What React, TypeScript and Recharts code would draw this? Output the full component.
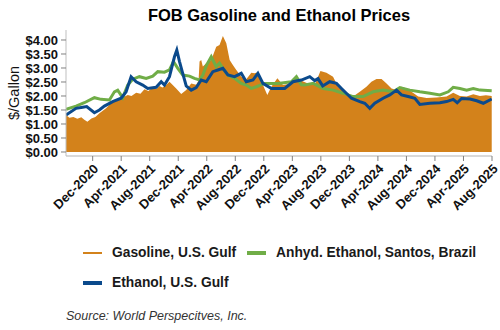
import React from 'react';
import { ComposedChart, Area, Line, XAxis, YAxis } from 'recharts';

// month index: 0 = Dec-2020
const TICK_LABELS = ['Dec-2020','Apr-2021','Aug-2021','Dec-2021','Apr-2022','Aug-2022','Dec-2022','Apr-2023','Aug-2023','Dec-2023','Apr-2024','Aug-2024','Dec-2024','Apr-2025','Aug-2025'];
const TICK_MONTHS = [0, 4, 8, 12, 16, 20, 24, 28, 32, 36, 40, 44, 48, 52, 56];
const Y_TICKS = [0, 0.5, 1, 1.5, 2, 2.5, 3, 3.5, 4];

const gasMonths = [-3.74,-3.27,-2.71,-2.15,-1.59,-1.17,-0.74,-0.18,0.38,0.94,1.88,2.81,3.47,3.99,4.92,5.44,6.1,6.7,7.26,7.82,8.43,8.95,9.37,9.78,10.31,10.77,11.19,11.71,12.42,13.12,13.82,14.52,14.85,14.99,15.22,15.45,15.93,16.63,17.33,17.79,18.26,18.74,19.21,19.66,20.14,20.84,21.54,22.25,22.71,23.17,23.88,24.49,25.06,25.9,26.69,27.86,29.03,30.2,31.14,31.94,32.78,33.71,34.41,35.35,36.52,37.46,38.39,39.09,39.8,40.51,41.21,41.91,42.61,43.31,44.02,44.72,45.65,46.83,48.23,49.63,50.56,51.5,52.44,53.37,54.31,55.15,55.96];
const gasPrices = [1.32,1.22,1.25,1.19,1.24,1.15,1.08,1.2,1.25,1.38,1.56,1.8,1.86,1.92,2.04,2.0,2.12,2.08,2.24,2.18,2.31,2.25,2.36,2.3,2.39,2.51,2.4,2.27,2.07,2.21,2.45,2.4,2.55,3.23,3.29,3.05,3.17,3.29,3.76,3.82,4.14,3.88,3.29,3.11,2.93,2.69,2.6,2.83,2.81,2.85,2.39,2.04,2.33,2.63,2.39,2.45,2.57,2.45,2.39,2.89,2.83,2.69,2.33,2.15,1.98,2.15,2.33,2.51,2.61,2.61,2.45,2.27,2.21,2.33,2.27,2.15,1.98,1.93,1.95,1.98,2.12,2.0,1.98,2.06,2.0,2.03,2.0];

const brMonths = [-3.74,-2.33,-1.17,0.24,1.18,2.35,3.05,3.51,4.21,4.92,5.62,6.56,7.5,8.43,9.13,10.07,10.77,11.33,11.94,12.64,13.58,14.28,14.99,15.45,15.97,16.63,17.33,17.79,18.26,18.96,19.9,20.84,21.54,22.25,22.95,24.11,25.98,27.86,28.57,29.27,29.76,30.93,32.33,33.71,35.11,36.52,37.92,39.33,40.73,42.13,43.08,44.48,45.88,47.29,48.69,49.86,50.56,51.5,52.44,53.37,54.31,55.96];
const brPrices = [1.52,1.64,1.76,1.94,1.88,1.86,2.15,2.21,1.94,2.39,2.6,2.69,2.63,2.71,2.87,2.85,2.93,3.23,2.99,2.75,2.71,2.63,2.57,2.75,3.1,3.4,3.05,3.17,2.99,2.75,2.63,2.45,2.39,2.27,2.33,2.45,2.45,2.51,2.69,2.4,2.39,2.45,2.27,2.21,2.1,1.98,1.98,2.15,2.21,2.15,2.3,2.21,2.15,2.1,2.04,2.15,2.31,2.27,2.21,2.27,2.21,2.19];

const usMonths = [-3.74,-2.33,-1.4,-0.84,0.24,0.94,1.64,2.81,3.99,4.69,5.39,6.1,7.02,7.72,8.9,9.61,10.07,10.77,11.47,11.8,12.18,12.56,13.12,13.82,14.52,15.22,15.93,16.85,17.56,18.26,18.96,19.9,20.84,21.54,22.47,23.17,23.88,25.06,26.93,28.09,29.27,30.44,31.14,31.6,32.26,33.24,34.19,34.89,36.29,37.46,38.16,38.86,39.56,40.73,41.67,42.61,43.31,44.24,45.18,45.88,47.29,48.69,49.63,50.56,51.12,51.74,52.91,53.85,54.78,55.96];
const usPrices = [1.32,1.56,1.6,1.62,1.4,1.5,1.64,1.8,1.92,2.15,2.69,2.51,2.39,2.27,2.31,2.51,2.39,2.69,3.4,3.64,3.23,2.87,2.36,2.21,2.3,2.57,2.51,2.87,2.93,2.99,2.75,2.69,2.81,2.51,2.57,2.81,2.45,2.27,2.27,2.51,2.57,2.69,2.55,2.62,2.36,2.51,2.45,2.27,1.92,1.8,1.74,1.56,1.74,1.92,2.04,2.21,2.04,1.98,1.92,1.7,1.74,1.76,1.8,1.88,1.76,1.91,1.89,1.83,1.74,1.89];

type Row = { m: number; gas?: number; br?: number; us?: number };

function buildRows(): Row[] {
  const map = new Map<number, Row>();
  const put = (ms: number[], vs: number[], key: 'gas' | 'br' | 'us') => {
    ms.forEach((m, i) => {
      const r = map.get(m) || { m };
      r[key] = vs[i];
      map.set(m, r);
    });
  };
  put(gasMonths, gasPrices, 'gas');
  put(brMonths, brPrices, 'br');
  put(usMonths, usPrices, 'us');
  return Array.from(map.values()).sort((a, b) => a.m - b.m);
}

const rows = buildRows();

const ORANGE = '#D3821B';
const GREEN = '#70AD47';
const BLUE = '#0B4A8C';
const FONT = '"Liberation Sans", Arial, sans-serif';

export default function App() {
  const legendText: React.CSSProperties = {
    position: 'absolute', fontSize: 13.8, fontWeight: 'bold', lineHeight: '16px', color: '#1a1a1a', whiteSpace: 'nowrap',
  };
  return (
    <div style={{ position: 'fixed', left: 0, top: 0, width: 500, height: 330, background: '#fff', fontFamily: FONT }}>
      <div style={{ position: 'absolute', left: 0, width: 558, top: 5, textAlign: 'center', fontSize: 16.5, fontWeight: 'bold', lineHeight: '20px', color: '#000' }}>
        FOB Gasoline and Ethanol Prices
      </div>
      <ComposedChart width={500} height={330} data={rows} margin={{ top: 30, right: 8, bottom: 104, left: 6 }} style={{ fontFamily: FONT }}>
        <XAxis
          type="number"
          dataKey="m"
          domain={[-3.74, 56]}
          ticks={TICK_MONTHS}
          tickFormatter={(v: number) => TICK_LABELS[TICK_MONTHS.indexOf(v)] ?? ''}
          interval={0}
          height={70}
          allowDataOverflow
          axisLine={{ stroke: '#D9D9D9', strokeWidth: 2 }}
          tickLine={{ stroke: '#808080' }}
          tickSize={5}
          tick={{ angle: -45, textAnchor: 'end', fontSize: 13, fontWeight: 'bold', fill: '#111' }}
        />
        <YAxis
          type="number"
          domain={[-0.143, 4.357]}
          ticks={Y_TICKS}
          interval={0}
          allowDataOverflow
          width={60}
          tickSize={5}
          tickMargin={3}
          axisLine={{ stroke: '#BFBFBF' }}
          tickLine={{ stroke: '#808080' }}
          tickFormatter={(v: number) => '$' + v.toFixed(2)}
          tick={{ fontSize: 13, fontWeight: 'bold', fill: '#111' }}
          label={{ value: '$/Gallon', angle: -90, position: 'insideLeft', offset: 8, style: { fontSize: 14.5, fill: '#111', textAnchor: 'middle' } }}
        />
        <Area type="linear" dataKey="gas" stroke="none" fill={ORANGE} fillOpacity={1} connectNulls isAnimationActive={false} dot={false} activeDot={false} />
        <Line type="linear" dataKey="br" stroke={GREEN} strokeWidth={3} connectNulls isAnimationActive={false} dot={false} activeDot={false} />
        <Line type="linear" dataKey="us" stroke={BLUE} strokeWidth={3} connectNulls isAnimationActive={false} dot={false} activeDot={false} />
      </ComposedChart>
      <div style={{ position: 'absolute', left: 83, top: 252, width: 19, height: 2, background: ORANGE }} />
      <div style={{ ...legendText, left: 112, top: 245 }}>Gasoline, U.S. Gulf</div>
      <div style={{ position: 'absolute', left: 247, top: 251, width: 19, height: 4, background: GREEN }} />
      <div style={{ ...legendText, left: 276, top: 245 }}>Anhyd. Ethanol, Santos, Brazil</div>
      <div style={{ position: 'absolute', left: 83, top: 281, width: 19, height: 4, background: BLUE }} />
      <div style={{ ...legendText, left: 112, top: 275 }}>Ethanol, U.S. Gulf</div>
      <div style={{ position: 'absolute', left: 66, top: 308, fontSize: 12.5, fontStyle: 'italic', lineHeight: '16px', color: '#333', whiteSpace: 'nowrap' }}>
        Source: World Perspecitves, Inc.
      </div>
    </div>
  );
}
